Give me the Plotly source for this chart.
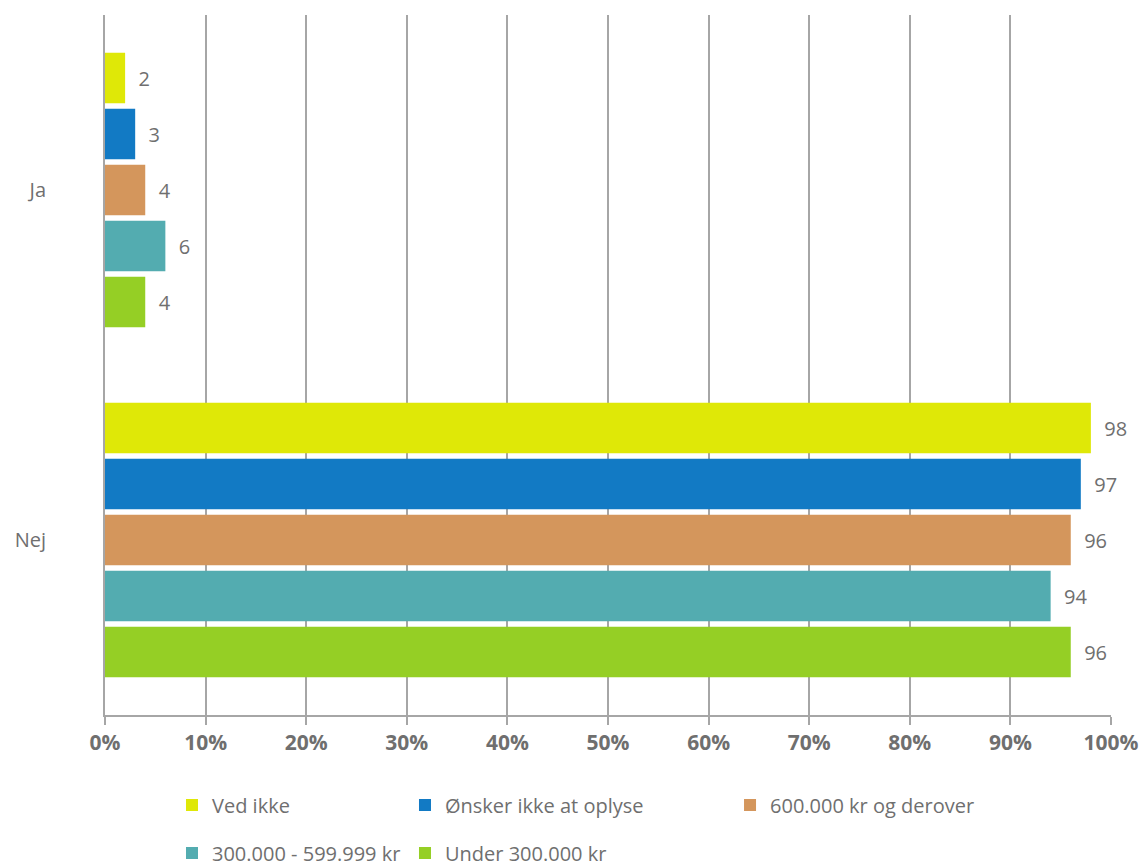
import plotly.graph_objects as go

categories = ["Ja", "Nej"]
series_names = ["Ved ikke", "Ønsker ikke at oplyse", "600.000 kr og derover",
                "300.000 - 599.999 kr", "Under 300.000 kr"]
values = {
    "Ved ikke": [2, 98],
    "Ønsker ikke at oplyse": [3, 97],
    "600.000 kr og derover": [4, 96],
    "300.000 - 599.999 kr": [6, 94],
    "Under 300.000 kr": [4, 96],
}
colors = ["#DFE807", "#127AC4", "#D4965C", "#53ACB0", "#95CF25"]
x_ticks = [0, 10, 20, 30, 40, 50, 60, 70, 80, 90, 100]
x_tick_labels = ["0%", "10%", "20%", "30%", "40%", "50%", "60%", "70%", "80%", "90%", "100%"]

GRAY = "#6f6f6f"
GRID = "#a6a6a6"
FONT = "Open Sans"

legend_ids = ["legend", "legend2", "legend3", "legend4", "legend5"]
legend_pos = [(0.0666, -0.1286), (0.2982, -0.1286), (0.6213, -0.1286),
              (0.0666, -0.197), (0.2982, -0.197)]

fig = go.Figure()
for name, col, lg in zip(series_names, colors, legend_ids):
    fig.add_trace(go.Bar(
        y=categories, x=values[name], name=name, orientation="h",
        marker=dict(color=col, line=dict(width=0)),
        text=[str(v) for v in values[name]], texttemplate="\u00a0\u00a0%{text}",
        textposition="outside", cliponaxis=False,
        textfont=dict(family=FONT, size=20, color=GRAY),
        legend=lg,
    ))

legend_common = dict(orientation="h", font=dict(family=FONT, size=20, color=GRAY),
                     yanchor="middle", xanchor="left", bgcolor="rgba(0,0,0,0)",
                     itemclick=False, itemdoubleclick=False)
legend_layout = {lid: dict(x=px, y=py, **legend_common)
                 for lid, (px, py) in zip(legend_ids, legend_pos)}

fig.update_layout(
    width=1131, height=859,
    margin=dict(l=97, r=28, t=7, b=152, autoexpand=False),
    paper_bgcolor="white", plot_bgcolor="white",
    barmode="group", bargap=0.2, bargroupgap=0.1,
    font=dict(family=FONT, color=GRAY),
    showlegend=True,
    **legend_layout,
    xaxis=dict(range=[0, 100], tickvals=x_ticks, ticktext=x_tick_labels,
               showgrid=True, gridcolor=GRID, gridwidth=2,
               showline=True, linecolor=GRID, linewidth=2,
               ticks="outside", ticklen=8, tickcolor=GRID, tickwidth=2,
               tickfont=dict(family=FONT, size=21, color=GRAY, weight="bold"),
               zeroline=False, fixedrange=True, automargin=False),
    yaxis=dict(autorange="reversed", showline=True, linecolor=GRID, linewidth=2,
               showgrid=False, ticks="", ticklabelstandoff=53,
               tickfont=dict(family=FONT, size=20, color=GRAY), fixedrange=True,
               automargin=False),
)

fig.write_html("out.html")
